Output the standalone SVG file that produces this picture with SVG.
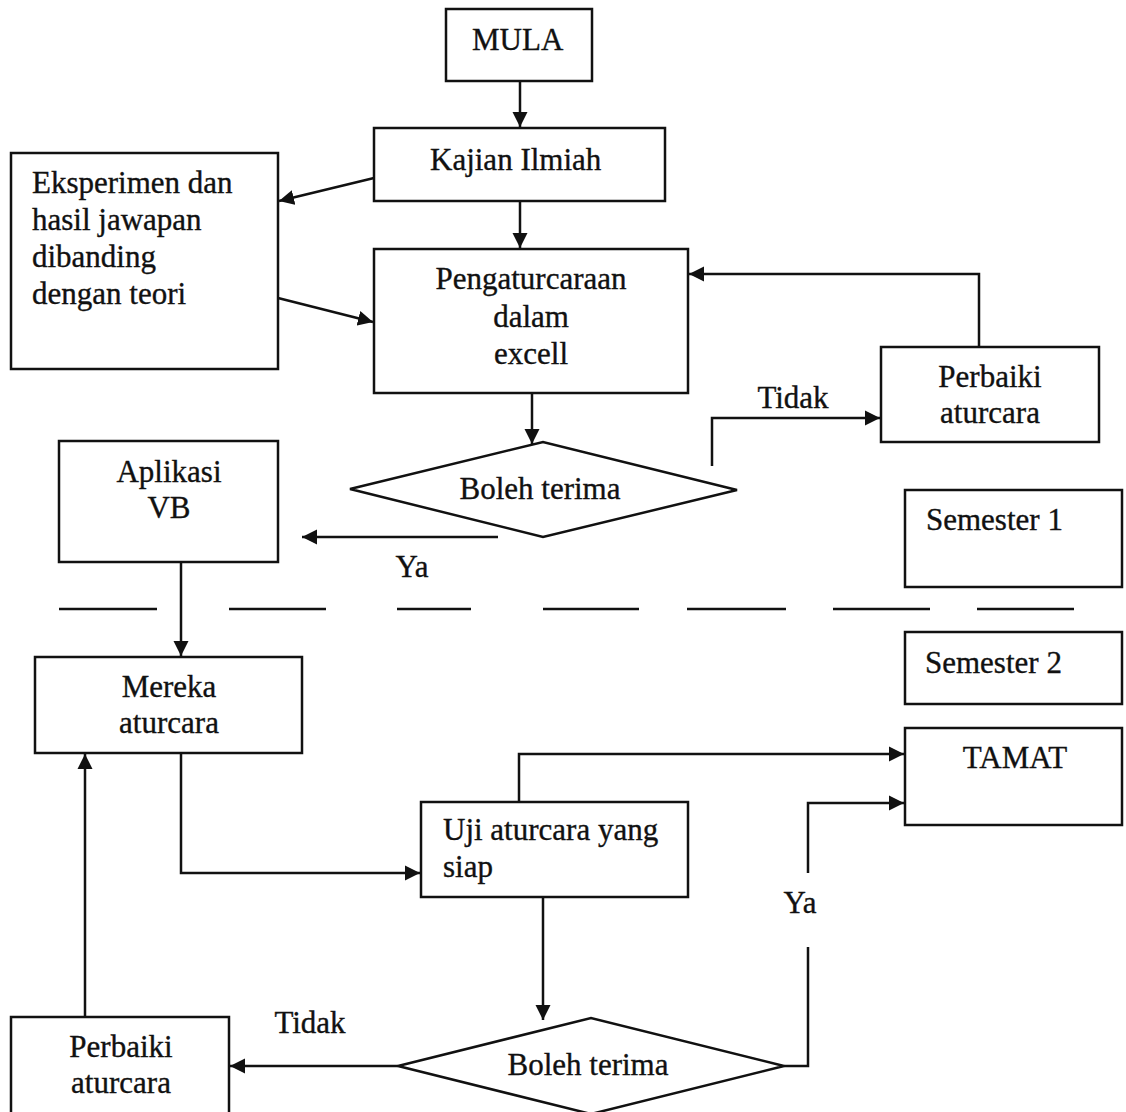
<svg xmlns="http://www.w3.org/2000/svg" width="1126" height="1112" viewBox="0 0 1126 1112">
<style>
.box{fill:#fff;stroke:#111;stroke-width:2.5}
.t{font-family:"Liberation Serif","Times New Roman",serif;font-size:31px;fill:#111;stroke:#111;stroke-width:0.35}
.m{text-anchor:middle}
.c{fill:none;stroke:#111;stroke-width:2.5}
.d{stroke:#111;stroke-width:2.5}
</style>
<defs>
<marker id="ah" markerUnits="userSpaceOnUse" markerWidth="16" markerHeight="16" refX="15" refY="8" orient="auto">
<path d="M0,0.5 L15,8 L0,15.5 z" fill="#111"/>
</marker>
</defs>
<rect width="1126" height="1112" fill="#fff"/>

<g id="connectors">
<path class="c" d="M520,81 V127" marker-end="url(#ah)"/>
<path class="c" d="M374,178 L279,201" marker-end="url(#ah)"/>
<path class="c" d="M520,201 V248" marker-end="url(#ah)"/>
<path class="c" d="M278,298 L373,322" marker-end="url(#ah)"/>
<path class="c" d="M532,393 V444" marker-end="url(#ah)"/>
<path class="c" d="M712,466 V418 H880" marker-end="url(#ah)"/>
<path class="c" d="M979,347 V274 H689" marker-end="url(#ah)"/>
<path class="c" d="M498,537 H302" marker-end="url(#ah)"/>
<path class="c" d="M181,562 V656" marker-end="url(#ah)"/>
<path class="c" d="M181,753 V873 H420" marker-end="url(#ah)"/>
<path class="c" d="M519,802 V754 H904" marker-end="url(#ah)"/>
<path class="c" d="M543,897 V1020" marker-end="url(#ah)"/>
<path class="c" d="M398,1066 H230" marker-end="url(#ah)"/>
<path class="c" d="M85,1017 V754" marker-end="url(#ah)"/>
<path class="c" d="M784,1066 H808 V947"/>
<path class="c" d="M808,873 V803 H904" marker-end="url(#ah)"/>
</g>

<g id="separator">
<line class="d" x1="59" y1="609" x2="157" y2="609"/>
<line class="d" x1="229" y1="609" x2="326" y2="609"/>
<line class="d" x1="397" y1="609" x2="471" y2="609"/>
<line class="d" x1="543" y1="609" x2="639" y2="609"/>
<line class="d" x1="687" y1="609" x2="786" y2="609"/>
<line class="d" x1="833" y1="609" x2="930" y2="609"/>
<line class="d" x1="977" y1="609" x2="1074" y2="609"/>
</g>

<g id="mula">
<rect class="box" x="446" y="9" width="146" height="72"/>
<text class="t" x="472" y="50">MULA</text>
</g>

<g id="kajian">
<rect class="box" x="374" y="128" width="291" height="73"/>
<text class="t" x="430" y="170">Kajian Ilmiah</text>
</g>

<g id="eksperimen">
<rect class="box" x="11" y="153" width="267" height="216"/>
<text class="t" x="32" y="193">Eksperimen dan</text>
<text class="t" x="32" y="230">hasil jawapan</text>
<text class="t" x="32" y="267">dibanding</text>
<text class="t" x="32" y="304">dengan teori</text>
</g>

<g id="pengaturcaraan">
<rect class="box" x="374" y="249" width="314" height="144"/>
<text class="t m" x="531" y="289">Pengaturcaraan</text>
<text class="t m" x="531" y="327">dalam</text>
<text class="t m" x="531" y="364">excell</text>
</g>

<g id="perbaiki1">
<rect class="box" x="881" y="347" width="218" height="95"/>
<text class="t m" x="990" y="387">Perbaiki</text>
<text class="t m" x="990" y="423">aturcara</text>
</g>

<g id="keputusan1">
<polygon class="box" points="350,489 543,442 737,490 543,537"/>
<text class="t m" x="540" y="499">Boleh terima</text>
</g>

<g id="aplikasi">
<rect class="box" x="59" y="441" width="219" height="121"/>
<text class="t m" x="169" y="482">Aplikasi</text>
<text class="t m" x="169" y="518">VB</text>
</g>

<g id="semester1">
<rect class="box" x="905" y="490" width="217" height="97"/>
<text class="t" x="926" y="530">Semester 1</text>
</g>

<g id="semester2">
<rect class="box" x="905" y="632" width="217" height="72"/>
<text class="t" x="925" y="673">Semester 2</text>
</g>

<g id="mereka">
<rect class="box" x="35" y="657" width="267" height="96"/>
<text class="t m" x="169" y="697">Mereka</text>
<text class="t m" x="169" y="733">aturcara</text>
</g>

<g id="tamat">
<rect class="box" x="905" y="728" width="217" height="97"/>
<text class="t m" x="1015" y="768">TAMAT</text>
</g>

<g id="uji">
<rect class="box" x="421" y="802" width="267" height="95"/>
<text class="t" x="443" y="840">Uji aturcara yang</text>
<text class="t" x="443" y="877">siap</text>
</g>

<g id="keputusan2">
<polygon class="box" points="398,1066 591,1018 784,1066 591,1114"/>
<text class="t m" x="588" y="1075">Boleh terima</text>
</g>

<g id="perbaiki2">
<rect class="box" x="11" y="1017" width="218" height="110"/>
<text class="t m" x="121" y="1057">Perbaiki</text>
<text class="t m" x="121" y="1093">aturcara</text>
</g>

<g id="labels">
<text class="t m" x="793" y="408">Tidak</text>
<text class="t m" x="412" y="577">Ya</text>
<text class="t m" x="310" y="1033">Tidak</text>
<text class="t m" x="800" y="913">Ya</text>
</g>
</svg>
